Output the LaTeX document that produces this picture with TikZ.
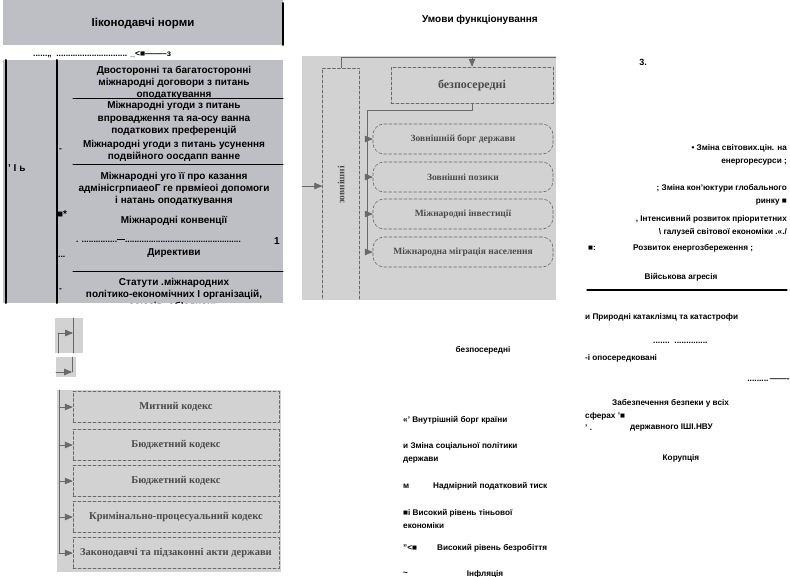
\documentclass[tikz,border=0pt]{standalone}
\usepackage{fontspec}
\setmainfont{Liberation Sans}
\newfontfamily\scanfont{Liberation Serif}
\usetikzlibrary{arrows}
\usetikzlibrary{positioning}
\definecolor{panelgray}{RGB}{190,190,197}
\definecolor{scangray}{RGB}{210,210,210}
\definecolor{scanink}{RGB}{105,105,105}
\definecolor{scantext}{RGB}{75,75,75}

\begin{document}
\begin{tikzpicture}[line cap=round,line join=round,>=triangle 45,x=1pt,y=-1pt,
  txt/.style={font=\fontsize{8.2}{13.6}\selectfont\bfseries,inner sep=0pt,align=center},
  lawtxt/.style={font=\fontsize{10}{12.2}\selectfont\bfseries,inner sep=0pt,align=center},
  smalltxt/.style={font=\fontsize{8.5}{9}\selectfont\bfseries,inner sep=0pt},
  title/.style={font=\fontsize{11.5}{13}\selectfont\bfseries,inner sep=0pt},
  scanbox/.style={draw=scanink,densely dashed,line width=0.6pt,inner sep=1pt,
    font=\scanfont\fontsize{9.5}{10}\selectfont\bfseries,text=scantext},
  scanround/.style={scanbox,rounded corners=11pt,minimum width=180pt,minimum height=30pt},
  codebox/.style={scanbox,minimum width=206pt,minimum height=31pt,font=\scanfont\fontsize{10.5}{11}\selectfont\bfseries},
  scanline/.style={draw=scanink,line width=0.8pt}]
\useasboundingbox (0,0) rectangle (790,577);

% legislative norms panel
\fill[panelgray] (3,0) rectangle (283,45);
\coordinate (hdrA) at (283,3);
\coordinate (hdrB) at (283,45);
\draw[line width=2pt] (hdrA) -- (hdrB);
\node[title] (lawnorms) at (143,24) {Ііконодавчі норми};
\node[smalltxt,anchor=west] (dotsA) at (33,55) {......,,\ \ .............................. \_<■--------з};
\begin{scope}
\clip (0,58) rectangle (290,304);
\fill[panelgray] (3,60) rectangle (283,303);
\foreach \x in {6,57}
\draw[line width=2pt] (\x,60) -- (\x,303);
\foreach \y in {99,165,272}
\draw[line width=1pt] (73,\y) -- (283,\y);
\node[lawtxt] (treaties) at (174,83) {Двосторонні та багатосторонні\\міжнародні договори з питань\\оподаткування};
\node[lawtxt] (prefs) at (174,118.5) {Міжнародні угоди з питань\\впровадження та яа-осу ванна\\податкових преференцій};
\node[lawtxt] (double) at (174,151) {Міжнародні угоди з питань усунення\\подвійного оосдапп ванне};
\node[lawtxt] (assist) at (174,189) {Міжнародні уго її про казання\\адмініcгрпиаеоГ ге првмieoi допомоги\\і натань оподаткування};
\node[lawtxt] (conv) at (174,221) {Міжнародні конвенції};
\node[smalltxt,anchor=west] (dotsB) at (76,241) {. ...............\rule[2.5pt]{8pt}{1.2pt}.................................................};
\node[lawtxt] (one) at (277,241) {1};
\node[lawtxt] (direct1) at (174,253) {Директиви};
\node[lawtxt] (statutes) at (174,295) {Статути .міжнародних\\політико-економічних І організацій,\\союзів, об'єднань};
\node[lawtxt,anchor=west] (markA) at (8,168) {' І ь};
\node[lawtxt,anchor=west] (markB) at (57,214) {■*};
\node[smalltxt,anchor=west] (markC) at (58,257) {...};
\node[smalltxt,anchor=west] (markD) at (59,150) {-};
\node[smalltxt,anchor=west] (markE) at (59,290) {-};
\end{scope}

\node[title,font=\fontsize{10}{12}\selectfont\bfseries] (conditions) at (480,20) {Умови функціонування};

% scanned scheme: external factors
\begin{scope}
\clip (302,56) rectangle (556,300);
\fill[scangray] (302,56) rectangle (556,300);
\node[scanbox,minimum width=37pt,minimum height=234pt] (outer) at (341,185) {};
\node[scanbox,draw=none,rotate=90] (outertxt) at (outer.center) {зовнішні};
\node[scanbox,minimum width=162pt,minimum height=36pt,font=\scanfont\fontsize{12}{13}\selectfont\bfseries] (direct) at (472,85) {безпосередні};
\coordinate (feed) at (560,57);
\draw[scanline] (feed) -| (outer.north);
\draw[scanline,->] (direct.north |- feed) -- (direct.north);
\coordinate (inleft) at (302,186);
\draw[scanline,->] (inleft) -- (outer.west |- inleft);
\foreach \i/\y/\lbl in {1/139/Зовнішній борг держави,2/177/Зовнішні позики,3/214/Міжнародні інвестиції,4/252/Міжнародна міграція населення}
\node[scanround] (ext\i) at (463,\y) {\lbl};
\coordinate (busA) at (367,110);
\draw[scanline] (direct.south) |- (busA) -- (busA |- ext4.west);
\foreach \i in {1,...,4}
\draw[scanline,->] (busA |- ext\i.west) -- (ext\i.west);
\end{scope}

% scanned fragments
\fill[scangray] (55,318) rectangle (83,353);
\fill[scangray] (56,357) rectangle (76,377);
\coordinate (fragA) at (58,353);
\coordinate (fragB) at (58,333);
\coordinate (fragC) at (73,333);
\coordinate (fragD) at (73,318);
\coordinate (fragE) at (73,353);
\draw[scanline] (fragA) -- (fragB);
\draw[scanline,->] (fragB) -- (fragC);
\draw[scanline] (fragD) -- (fragE);
\coordinate (fragF) at (56,372);
\coordinate (fragG) at (72,372);
\coordinate (fragH) at (72,357);
\draw[scanline,->] (fragF) -- (fragG);
\draw[scanline] (fragH) -- (fragG);

% scanned scheme: codes
\fill[scangray] (57,390) rectangle (281,572);
\foreach \i/\y/\lbl in {1/407/Митний кодекс,2/445/Бюджетний кодекс,3/481/Бюджетний кодекс,4/517/Кримінально-процесуальний кодекс,5/553/Законодавчі та підзаконні акти держави}
\node[codebox] (code\i) at (176,\y) {\lbl};
\coordinate (busB) at (59,390);
\draw[scanline] (busB) -- (busB |- code5.west);
\foreach \i in {1,...,5}
\draw[scanline,->] (busB |- code\i.west) -- (code\i.west);

% middle column
\node[txt] (directly) at (483,350) {безпосередні};
\node[txt,anchor=west] (debt) at (403,420) {«' Внутрішній борг країни};
\node[txt,anchor=west,align=left,font=\fontsize{8.2}{13}\selectfont\bfseries] (social) at (403,452.5) {и Зміна соціальної політики\\держави};
\node[txt,anchor=west] (bulletA) at (403,486) {м};
\node[txt,anchor=west] (tax) at (433,486) {Надмірний податковий тиск};
\node[txt,anchor=west,align=left,font=\fontsize{8.2}{13}\selectfont\bfseries] (shadow) at (403,518.5) {■і Високий рівень тіньової\\економіки};
\node[txt,anchor=west] (bulletB) at (403,548) {"<■};
\node[txt,anchor=west] (jobless) at (437,548) {Високий рівень безробіття};
\node[txt,anchor=west] (bulletC) at (403,574) {\textasciitilde};
\node[txt] (inflation) at (485,574) {Інфляція};

% right column
\node[txt,font=\fontsize{9}{11}\selectfont\bfseries] (three) at (643,62) {3.};
\node[txt,anchor=east,align=right] (prices) at (787,155) {• Зміна світових.цін. на\\енергоресурси ;};
\node[txt,anchor=east,align=right] (market) at (787,195) {; Зміна кон'юктури глобального\\ринку ■};
\node[txt,anchor=east,align=right] (branches) at (787,226) {, Інтенсивний розвиток пріоритетних\\\textbackslash{} галузей світової економіки .«./};
\node[txt,anchor=west] (bulletD) at (588,248) {■:};
\node[txt,anchor=west] (saving) at (633,248) {Розвиток енергозбереження ;};
\node[txt] (war) at (681,277) {Військова агресія};
\coordinate (ruleA) at (587,290);
\coordinate (ruleB) at (787,290);
\draw[line width=1.3pt] (ruleA) -- (ruleB);
\node[txt,anchor=west] (disaster) at (585,317) {и Природні катаклізмц та катастрофи};
\node[smalltxt,anchor=west] (dotsC) at (653,343) {.......\ \ ..............};
\node[txt,anchor=west] (indirect) at (585,358) {-і опосередковані};
\node[smalltxt,anchor=east] (dotsD) at (790,380) {.........\,-------};
\node[txt,anchor=west] (security) at (612,403) {Забезпечення безпеки у всіх};
\node[txt,anchor=west] (spheres) at (585,416) {сферах '■};
\node[txt,anchor=west] (bulletE) at (585,428) {' .};
\node[txt,anchor=west] (state) at (630,428) {державного ІШІ.НВУ};
\node[txt] (corrupt) at (681,458) {Корупція};
\end{tikzpicture}
\end{document}
